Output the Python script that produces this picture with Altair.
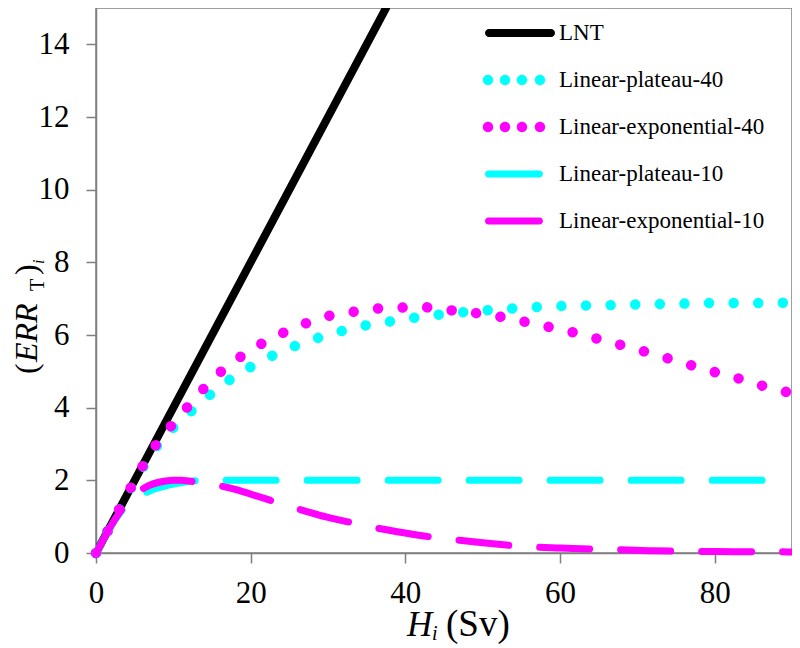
import altair as alt
import pandas as pd

SERIES = ["LNT", "Linear-plateau-40", "Linear-exponential-40",
          "Linear-plateau-10", "Linear-exponential-10"]
COLORS = ["#000000", "#00FFFF", "#FF00FF", "#00FFFF", "#FF00FF"]
DASHES = [[2000, 1], [0.01, 24.6], [0.01, 24.6], [50, 31], [50, 31]]
WIDTHS = [8, 10.5, 10.5, 7, 7]

# values
lnt_h = [0, 37.5]
lnt_err = [0, 15]

lp40_h = [0, 2, 4, 6, 8, 10, 12, 14, 16, 18, 20, 23, 26, 29, 32, 35, 38, 41,
          44, 47, 50, 54, 58, 62, 66, 70, 75, 80, 85, 90]
lp40_err = [0, 0.8, 1.58, 2.33, 2.98, 3.45, 3.84, 4.22, 4.57, 4.87, 5.12,
            5.45, 5.72, 5.94, 6.12, 6.27, 6.37, 6.47, 6.55, 6.62, 6.67, 6.73,
            6.78, 6.81, 6.82, 6.84, 6.86, 6.88, 6.88, 6.89]

le40_h = [0, 2, 4, 6, 8, 10, 12, 14, 16, 18, 20, 22, 24, 27, 30, 33, 36, 39,
          42, 45, 48, 51, 54, 57, 60, 63, 66, 69, 72, 75, 78, 81, 84, 87, 90]
le40_err = [0, 0.8, 1.6, 2.38, 3.05, 3.57, 4.06, 4.54, 4.96, 5.30, 5.58,
            5.83, 6.04, 6.31, 6.52, 6.63, 6.72, 6.75, 6.77, 6.70, 6.63, 6.55,
            6.43, 6.29, 6.16, 6.0, 5.83, 5.66, 5.48, 5.29, 5.10, 4.92, 4.75,
            4.55, 4.40]

lp10_h = [0, 1, 2, 3, 4, 5, 6, 7, 8, 9, 10, 11, 12, 13, 14, 16, 90]
lp10_err = [0, 0.39, 0.76, 1.07, 1.33, 1.5, 1.62, 1.71, 1.79, 1.85, 1.9,
            1.94, 1.97, 1.99, 2.0, 2.0, 2.0]

le10_h = [0, 1, 2, 3, 4, 5, 6, 7, 8, 9, 10, 11, 12, 14, 16, 18, 20, 23, 26,
          30, 33, 36, 40, 43, 47, 50, 54, 57, 60, 64, 68, 72, 75, 80, 85, 90]
le10_err = [0, 0.39, 0.77, 1.1, 1.38, 1.6, 1.76, 1.87, 1.94, 1.98, 2.0, 2.0,
            1.98, 1.93, 1.85, 1.75, 1.62, 1.42, 1.22, 0.98, 0.84, 0.7, 0.55,
            0.45, 0.35, 0.28, 0.2, 0.16, 0.14, 0.11, 0.09, 0.06, 0.05, 0.04,
            0.035, 0.03]

x_ticks = [0, 20, 40, 60, 80]
y_ticks = [0, 2, 4, 6, 8, 10, 12, 14]

all_h = [lnt_h, lp40_h, le40_h, lp10_h, le10_h]
all_err = [lnt_err, lp40_err, le40_err, lp10_err, le10_err]

rows = []
for name, hs, es in zip(SERIES, all_h, all_err):
    for h, e in zip(hs, es):
        rows.append({"series": name, "H": h, "ERR": e})
df = pd.DataFrame(rows)

FONT = "Liberation Serif"


# legend glyphs (unit square -1..1, scaled by the legend symbol size)
def bar_path(x0, x1, half):
    return (f"M {x0:.4f} {-half:.4f} L {x1:.4f} {-half:.4f} "
            f"A {half:.4f} {half:.4f} 0 0 1 {x1:.4f} {half:.4f} "
            f"L {x0:.4f} {half:.4f} "
            f"A {half:.4f} {half:.4f} 0 0 1 {x0:.4f} {-half:.4f} Z")


def dots_path(centers, r):
    parts = []
    for c in centers:
        parts.append(f"M {c - r:.4f} 0 A {r:.4f} {r:.4f} 0 1 0 {c + r:.4f} 0 "
                     f"A {r:.4f} {r:.4f} 0 1 0 {c - r:.4f} 0 Z")
    return " ".join(parts)


SYM = 35.0  # half symbol length in px
GLYPHS = [
    bar_path(-1 + 4 / SYM, 1 - 4 / SYM, 4 / SYM),
    dots_path([-0.914, -0.429, 0.057, 0.571], 5.2 / SYM),
    dots_path([-0.914, -0.429, 0.057, 0.571], 5.2 / SYM),
    bar_path(-1 + 3.5 / SYM, 0.657 - 3.5 / SYM, 3.5 / SYM),
    bar_path(-1 + 3.5 / SYM, 0.657 - 3.5 / SYM, 3.5 / SYM),
]

legend = alt.Legend(
    title=None, orient="none", legendX=389, legendY=-10,
    symbolSize=4900, symbolStrokeWidth=0,
    labelFont=FONT, labelFontSize=23, labelColor="black", labelLimit=500,
    rowPadding=0, padding=0, labelOffset=4,
)

xenc = alt.X("H:Q", scale=alt.Scale(domain=[0, 90], nice=False),
             axis=alt.Axis(values=x_ticks, title=None, labelFlush=False,
                           labelFont=FONT, labelPadding=15))
yenc = alt.Y("ERR:Q", scale=alt.Scale(domain=[0, 15], nice=False),
             axis=alt.Axis(values=y_ticks, title=None, labelFont=FONT,
                           labelPadding=17))

base = alt.Chart(df).encode(x=xenc, y=yenc)

layers = []
for s, c, d, w in zip(SERIES, COLORS, DASHES, WIDTHS):
    layers.append(
        base.transform_filter(alt.datum.series == s).mark_line(
            color=c, strokeDash=d, strokeWidth=w,
            strokeCap="round", strokeJoin="round", clip=(s == "LNT"),
            interpolate="linear" if s == "LNT" else "monotone")
    )

# legend carrier: no rows drawn, the legend lists the scale domain
legend_layer = alt.Chart(df).transform_filter("false").mark_point(
    filled=True, opacity=1, strokeWidth=0
).encode(
    x=xenc, y=yenc,
    fill=alt.Fill("series:N", scale=alt.Scale(domain=SERIES, range=COLORS), legend=legend),
    shape=alt.Shape("series:N", scale=alt.Scale(domain=SERIES, range=GLYPHS), legend=legend),
)


def piece(txt, x, y, size, style="normal", angle=0):
    return alt.Chart(pd.DataFrame({"t": [txt]})).mark_text(
        font=FONT, fontSize=size, fontStyle=style, align="left",
        baseline="alphabetic", angle=angle, color="black"
    ).encode(x=alt.value(x), y=alt.value(y), text="t:N")


titles = [
    piece("H", 311, 628, 35, "italic"),
    piece("i", 336, 632, 20, "italic"),
    piece("(Sv)", 350, 628, 37),
    piece("(", -59, 366, 32, angle=270),
    piece("ERR", -59, 354, 32, "italic", angle=270),
    piece("T", -52, 283, 20, angle=270),
    piece(")", -59, 267, 32, angle=270),
    piece("i", -52, 256, 16, "italic", angle=270),
]

chart = alt.layer(*layers, legend_layer, *titles).properties(
    width=696, height=545,
    autosize=alt.AutoSizeParams(type="none"),
    padding={"left": 88, "top": 0, "right": 0, "bottom": 92},
).configure(
    font=FONT
).configure_view(
    stroke="#7f7f7f", strokeWidth=1.5
).configure_axis(
    grid=False, domainColor="#7f7f7f", domainWidth=1.5,
    tickColor="#7f7f7f", tickWidth=1.5, tickSize=10,
    labelFont=FONT, labelFontSize=31, labelColor="black",
).configure_legend(
    labelFont=FONT
)

chart.save("out.html", embed_options={"renderer": "svg", "actions": False})
